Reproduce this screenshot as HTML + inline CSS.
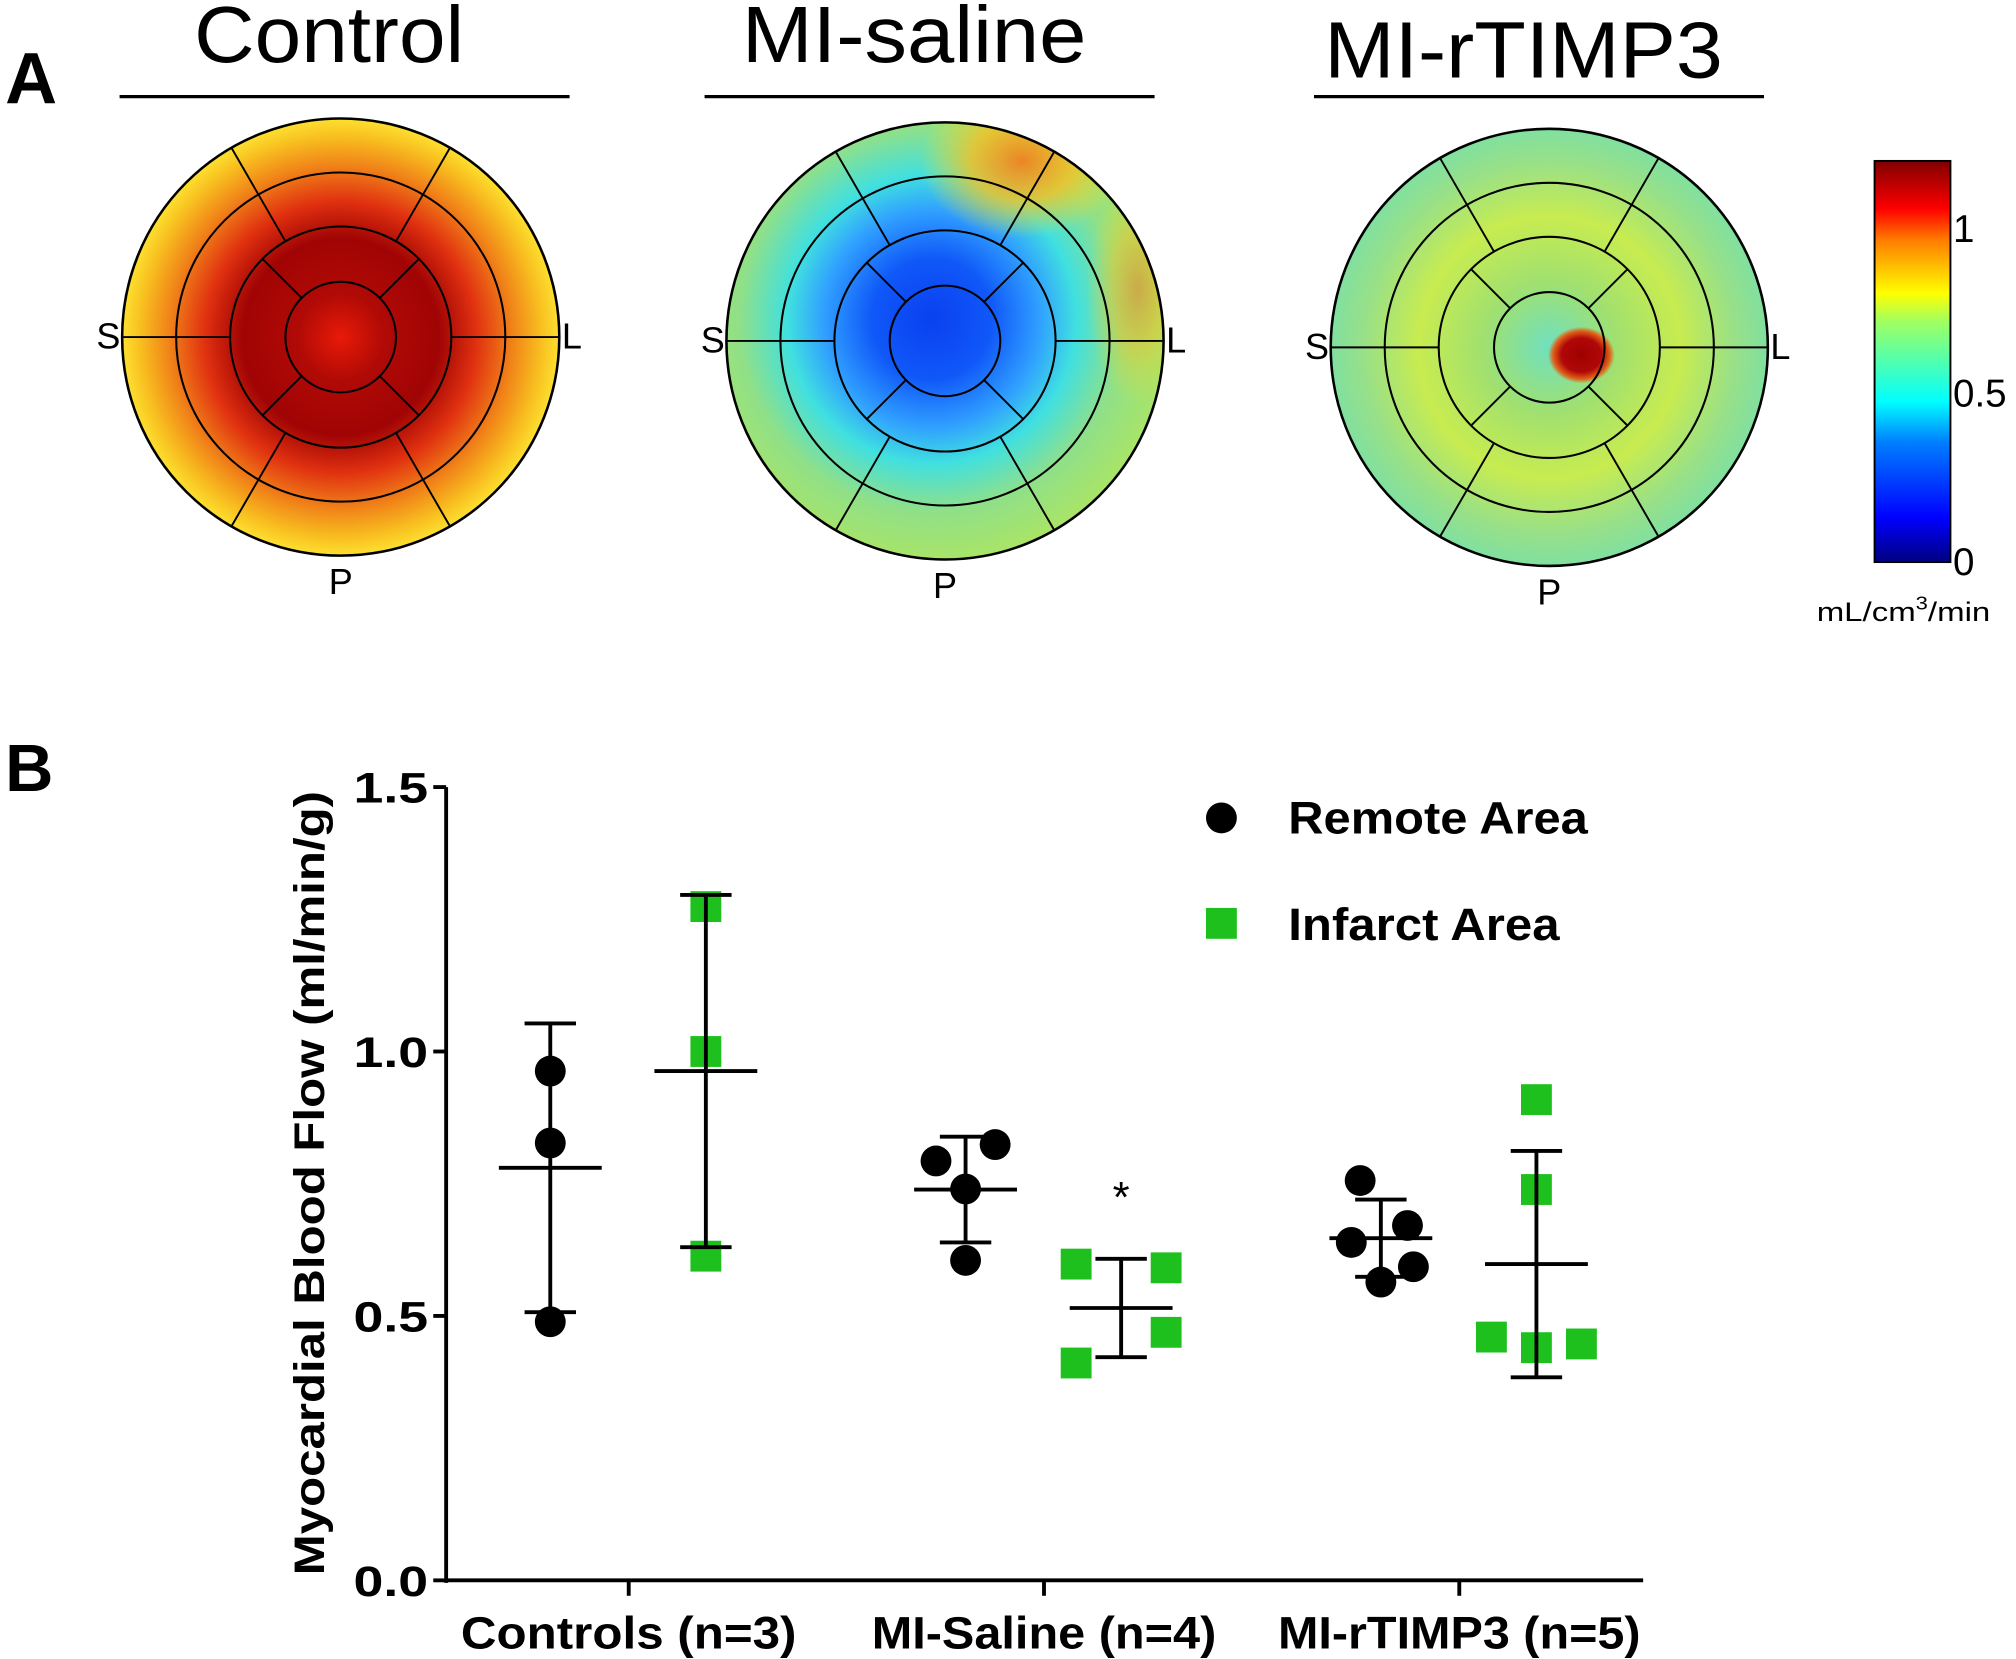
<!DOCTYPE html>
<html><head><meta charset="utf-8"><style>
html,body{margin:0;padding:0;background:#fff;}
svg{display:block;font-family:"Liberation Sans",Arial,sans-serif;}
</style></head><body>
<svg id="fig" width="2016" height="1659" viewBox="0 0 1568 1290" xmlns="http://www.w3.org/2000/svg">
<defs>
<radialGradient id="gCtrl" cx="0.5" cy="0.5" r="0.5">
<stop offset="0" stop-color="#e81a08"/><stop offset="0.2" stop-color="#b00a06"/><stop offset="0.45" stop-color="#a00404"/><stop offset="0.62" stop-color="#e03010"/><stop offset="0.78" stop-color="#f08018"/><stop offset="0.92" stop-color="#f8c020"/><stop offset="1" stop-color="#fde030"/>
</radialGradient>
<radialGradient id="gSal" cx="0.47" cy="0.45" r="0.55">
<stop offset="0" stop-color="#0a40f0"/><stop offset="0.25" stop-color="#1058f8"/><stop offset="0.45" stop-color="#30a0ff"/><stop offset="0.6" stop-color="#40e0e0"/><stop offset="0.8" stop-color="#90e088"/><stop offset="1" stop-color="#a8e468"/>
</radialGradient>
<radialGradient id="gTimp" cx="0.5" cy="0.5" r="0.5">
<stop offset="0" stop-color="#70e0c0"/><stop offset="0.3" stop-color="#a0e070"/><stop offset="0.6" stop-color="#c8ec50"/><stop offset="0.85" stop-color="#98e088"/><stop offset="1" stop-color="#80e0a0"/>
</radialGradient>
<radialGradient id="gHot" cx="0.5" cy="0.5" r="0.5">
<stop offset="0" stop-color="#a00000"/><stop offset="0.6" stop-color="#b00808"/><stop offset="0.85" stop-color="#e06018"/><stop offset="1" stop-color="#e06018" stop-opacity="0"/>
</radialGradient>
<radialGradient id="gOrange" cx="0.5" cy="0.5" r="0.5">
<stop offset="0" stop-color="#f08020" stop-opacity="0.95"/><stop offset="0.5" stop-color="#f8c020" stop-opacity="0.8"/><stop offset="1" stop-color="#f8e020" stop-opacity="0"/>
</radialGradient>
<clipPath id="clipSal"><circle cx="735" cy="265" r="170"/></clipPath>
<linearGradient id="gBar" x1="0" y1="1" x2="0" y2="0">
<stop offset="0" stop-color="#00007f"/><stop offset="0.11" stop-color="#0000ff"/><stop offset="0.3" stop-color="#0080ff"/><stop offset="0.4" stop-color="#00ffff"/><stop offset="0.6" stop-color="#a0ff60"/><stop offset="0.67" stop-color="#ffff00"/><stop offset="0.8" stop-color="#ff8000"/><stop offset="0.88" stop-color="#ff0000"/><stop offset="1" stop-color="#800000"/>
</linearGradient>
</defs>

<text x="4" y="80" font-size="56" font-weight="bold">A</text>
<text x="4" y="615" font-size="52" font-weight="bold">B</text>

<g id="bulls"></g>

<g>
<rect x="1458" y="125" width="59" height="312" fill="url(#gBar)" stroke="#000" stroke-width="1.5"/>
<text x="1519" y="188" font-size="30">1</text>
<text x="1519" y="316" font-size="30">0.5</text>
<text x="1519" y="447" font-size="30">0</text>
<text x="1413" y="483" font-size="21" textLength="135" lengthAdjust="spacingAndGlyphs">mL/cm<tspan dy="-9" font-size="14">3</tspan><tspan dy="9">/min</tspan></text>
</g>

<g id="chart"></g>

<script>
var groups = ["Controls (n=3)", "MI-Saline (n=4)", "MI-rTIMP3 (n=5)"];
var yTicks = [0.0, 0.5, 1.0, 1.5];
var yTickLabels = ["0.0", "0.5", "1.0", "1.5"];
var remotePoints = [[0.963, 0.827, 0.489], [0.793, 0.824, 0.74, 0.605], [0.756, 0.671, 0.639, 0.593, 0.564]];
var remoteOffsets = [[0, 0, 0], [-0.5, 0.5, 0, 0], [-0.35, 0.45, -0.5, 0.55, 0]];
var infarctPoints = [[1.274, 1.0, 0.613], [0.598, 0.591, 0.469, 0.411], [0.909, 0.739, 0.46, 0.447, 0.44]];
var infarctOffsets = [[0, 0, 0], [-0.5, 0.5, 0.5, -0.5], [0, 0, -0.5, 0.5, 0]];
var remoteMean = [0.78, 0.739, 0.647];
var remoteSD = [0.273, 0.10, 0.073];
var infarctMean = [0.963, 0.515, 0.598];
var infarctSD = [0.333, 0.093, 0.214];
var panelTitles = ["Control", "MI-saline", "MI-rTIMP3"];

var NS = "http://www.w3.org/2000/svg";
function mk(parent, tag, attrs) {
  var e = document.createElementNS(NS, tag);
  for (var k in attrs) e.setAttribute(k, attrs[k]);
  parent.appendChild(e);
  return e;
}

// ---- Panel A bullseyes ----
var bulls = document.getElementById("bulls");
var centers = [[265, 262], [735, 265], [1205, 270]];
var fills = ["url(#gCtrl)", "url(#gSal)", "url(#gTimp)"];
var titleY = [48, 48, 60];
var titleW = [210, 268, 310];
var lineX = [[93, 443], [548, 898], [1022, 1372]];
for (var i = 0; i < 3; i++) {
  var cx = centers[i][0], cy = centers[i][1], R = 170;
  var t = mk(bulls, "text", {x: (lineX[i][0] + lineX[i][1]) / 2 - 12, y: titleY[i], "font-size": 62, "text-anchor": "middle", textLength: titleW[i], lengthAdjust: "spacingAndGlyphs"});
  t.textContent = panelTitles[i];
  
  
  var ul = mk(bulls, "line", {x1: lineX[i][0], x2: lineX[i][1], y1: 75, y2: 75, stroke: "#000", "stroke-width": 2.5});
  
  
  var c = mk(bulls, "circle", {cx: cx, cy: cy, r: R, fill: fills[i]});
  
  
  if (i === 1) {
    var e2 = mk(bulls, "ellipse", {cx: cx + 60, cy: cy - 140, rx: 80, ry: 60, fill: "url(#gOrange)", "clip-path": "url(#clipSal)"});
    
    
    var e3 = mk(bulls, "ellipse", {cx: cx + 150, cy: cy - 40, rx: 40, ry: 90, fill: "url(#gOrange)", opacity: 0.6, "clip-path": "url(#clipSal)"});
    
    
  }
  if (i === 2) {
    var h = mk(bulls, "ellipse", {cx: cx + 25, cy: cy + 6, rx: 26, ry: 22, fill: "url(#gHot)"});
    
    
  }
  var radii = [170, 128, 86, 43];
  for (var r = 0; r < radii.length; r++) {
    var ring = mk(bulls, "circle", {cx: cx, cy: cy, r: radii[r], fill: "none", stroke: "#000", "stroke-width": r === 0 ? 2 : 1.6});
    
    
  }
  for (var a = 0; a < 360; a += 60) {
    var rad = a * Math.PI / 180;
    var ln = mk(bulls, "line", {x1: cx + 86 * Math.cos(rad), y1: cy + 86 * Math.sin(rad), x2: cx + 170 * Math.cos(rad), y2: cy + 170 * Math.sin(rad), stroke: "#000", "stroke-width": 1.5});
    
    
  }
  for (var a2 = 45; a2 < 360; a2 += 90) {
    var rad2 = a2 * Math.PI / 180;
    var ln2 = mk(bulls, "line", {x1: cx + 43 * Math.cos(rad2), y1: cy + 43 * Math.sin(rad2), x2: cx + 86 * Math.cos(rad2), y2: cy + 86 * Math.sin(rad2), stroke: "#000", "stroke-width": 1.5});
    
    
  }
  var labs = [["S", cx - 190, cy + 9], ["L", cx + 172, cy + 9], ["P", cx, cy + 200]];
  for (var l = 0; l < 3; l++) {
    var lt = mk(bulls, "text", {x: labs[l][1], y: labs[l][2], "font-size": 28, "text-anchor": l === 2 ? "middle" : "start"});
    lt.textContent = labs[l][0];
    
    
  }
}

// ---- Panel B chart ----
var chart = document.getElementById("chart");
var x0 = 347, x1 = 1278, yBase = 1229, yTop = 612;
function yS(v) { return yBase - (v / 1.5) * (yBase - yTop); }
var groupTick = [489, 812, 1135];
var groupLabelW = [261, 268, 282];
function xRemote(g) { return groupTick[g] - 61; }
function xInfarct(g) { return groupTick[g] + 60; }

var yax = mk(chart, "line", {x1: x0, x2: x0, y1: yTop, y2: yBase + 2, stroke: "#000", "stroke-width": 3});


var xax = mk(chart, "line", {x1: x0 - 1, x2: x1, y1: yBase, y2: yBase, stroke: "#000", "stroke-width": 3});


for (var k = 0; k < yTicks.length; k++) {
  var yy = yS(yTicks[k]);
  var tk = mk(chart, "line", {x1: x0 - 10, x2: x0, y1: yy, y2: yy, stroke: "#000", "stroke-width": 3});
  
  
  var tl = mk(chart, "text", {x: x0 - 14, y: yy + 12, "font-size": 33, "font-weight": "bold", "text-anchor": "end", textLength: 58, lengthAdjust: "spacingAndGlyphs"});
  tl.textContent = yTickLabels[k];
  
  
}
for (var g = 0; g < groups.length; g++) {
  var xt = mk(chart, "line", {x1: groupTick[g], x2: groupTick[g], y1: yBase, y2: yBase + 12, stroke: "#000", "stroke-width": 3});
  
  
  var xl = mk(chart, "text", {x: groupTick[g], y: 1282, "font-size": 35, "font-weight": "bold", "text-anchor": "middle", textLength: groupLabelW[g], lengthAdjust: "spacingAndGlyphs"});
  xl.textContent = groups[g];
  
  
}
var yt = mk(chart, "text", {x: 0, y: 0, "font-size": 33, "font-weight": "bold", "text-anchor": "middle", transform: "translate(252,920) rotate(-90)", textLength: 610, lengthAdjust: "spacingAndGlyphs"});
yt.textContent = "Myocardial  Blood Flow (ml/min/g)";



function errBars(xc, m, sd, name) {
  var w = 40, cap = 20;
  var ml = mk(chart, "line", {x1: xc - w, x2: xc + w, y1: yS(m), y2: yS(m), stroke: "#000", "stroke-width": 3});
  
  
  var vl = mk(chart, "line", {x1: xc, x2: xc, y1: yS(m + sd), y2: yS(m - sd), stroke: "#000", "stroke-width": 3});
  
  
  var c1 = mk(chart, "line", {x1: xc - cap, x2: xc + cap, y1: yS(m + sd), y2: yS(m + sd), stroke: "#000", "stroke-width": 3});
  
  
  var c2 = mk(chart, "line", {x1: xc - cap, x2: xc + cap, y1: yS(m - sd), y2: yS(m - sd), stroke: "#000", "stroke-width": 3});
  
  
}
for (var g2 = 0; g2 < groups.length; g2++) {
  for (var p = 0; p < infarctPoints[g2].length; p++) {
    var sq = mk(chart, "rect", {x: xInfarct(g2) + infarctOffsets[g2][p] * 70 - 12, y: yS(infarctPoints[g2][p]) - 12, width: 24, height: 24, fill: "#1ec01e"});
    
    
  }
  for (var q = 0; q < remotePoints[g2].length; q++) {
    var dot = mk(chart, "circle", {cx: xRemote(g2) + remoteOffsets[g2][q] * 46, cy: yS(remotePoints[g2][q]), r: 12, fill: "#000"});
    
    
  }
  errBars(xRemote(g2), remoteMean[g2], remoteSD[g2], 'remote');
  errBars(xInfarct(g2), infarctMean[g2], infarctSD[g2], 'infarct');
}
var star = mk(chart, "text", {x: xInfarct(1), y: yS(0.74) + 18, "font-size": 34, "text-anchor": "middle"});
star.textContent = "*";



var lg1 = mk(chart, "circle", {cx: 950, cy: 636, r: 12, fill: "#000"});


var lt1 = mk(chart, "text", {x: 1002, y: 648, "font-size": 35, "font-weight": "bold", textLength: 233, lengthAdjust: "spacingAndGlyphs"});
lt1.textContent = "Remote Area";


var lg2 = mk(chart, "rect", {x: 938, y: 706, width: 24, height: 24, fill: "#1ec01e"});


var lt2 = mk(chart, "text", {x: 1002, y: 731, "font-size": 35, "font-weight": "bold", textLength: 211, lengthAdjust: "spacingAndGlyphs"});
lt2.textContent = "Infarct Area";


</script>
</svg>
</body></html>
